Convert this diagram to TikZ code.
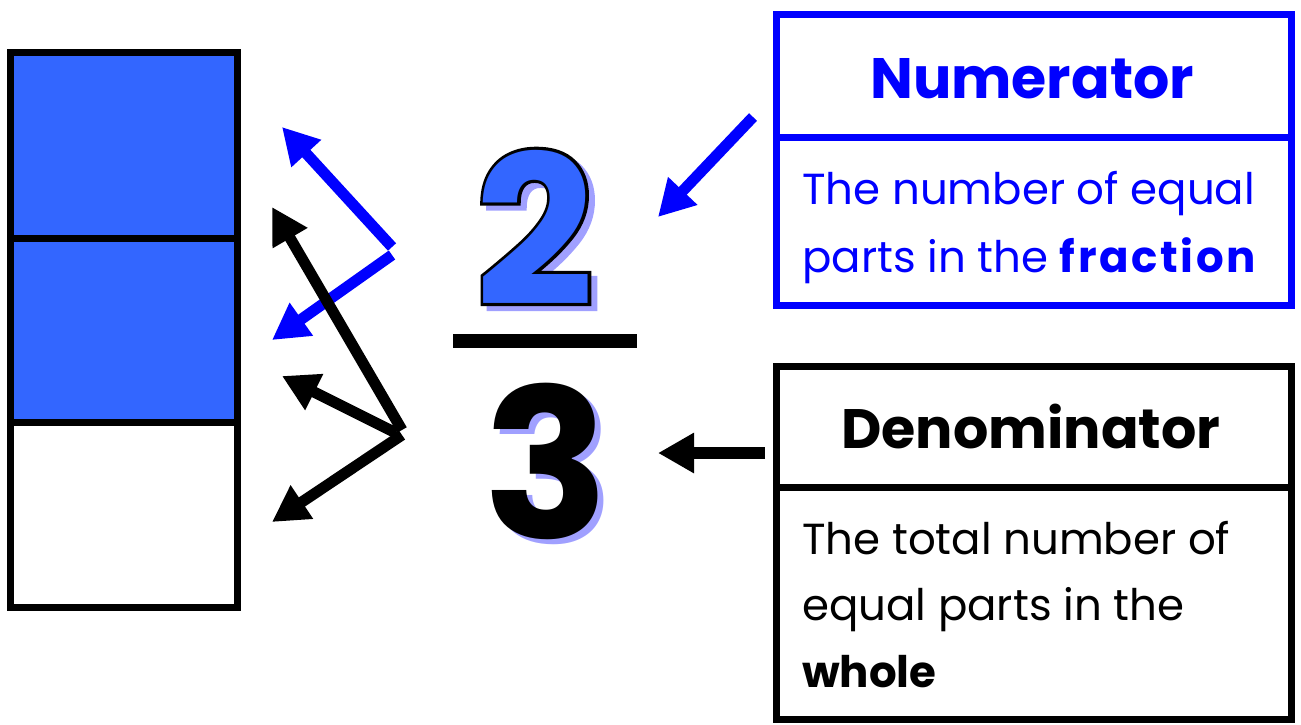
\documentclass[tikz,border=0pt]{standalone}
\usepackage{fontspec}
\setmainfont{Poppins}
\usetikzlibrary{arrows.meta,calc}
\definecolor{cellblue}{HTML}{3366FF}
\definecolor{pureblue}{HTML}{0000FF}
\definecolor{shadow}{HTML}{A0A0FF}
\tikzset{
  arr/.style={line width=11pt, -{Triangle[length=36pt,width=38pt]}},
  boxline/.style={line width=7pt},
  body/.style={anchor=base west, inner sep=0pt, font=\fontsize{43.5}{43.5}\selectfont},
  head/.style={anchor=base, inner sep=0pt, font=\fontsize{57}{57}\selectfont\bfseries},
  digit/.style={anchor=base, inner sep=0pt, font=\fontsize{208}{208}\selectfont\bfseries},
}
\begin{document}
\begin{tikzpicture}[x=1pt,y=-1pt]
\useasboundingbox (0,0) rectangle (1301,724);
% fraction bar model
\fill[cellblue] (10,52) rectangle (237,422);
\draw[boxline] (10,52) rectangle (237,607);
\draw[boxline] (10,238) -- (237,238);
\draw[boxline] (10,422) -- (237,422);
% coordinates for arrows
\coordinate (bv1) at (392,247);
\coordinate (bv2) at (392,255);
\coordinate (bt1) at (282,127);
\coordinate (bt2) at (272,340);
\coordinate (kv1) at (402,430);
\coordinate (kv2) at (396,433);
\coordinate (kv3) at (402,435);
\coordinate (kt1) at (272,207);
\coordinate (kt2) at (282,376);
\coordinate (kt3) at (272,522);
\draw[arr,pureblue] (bv1) -- (bt1);
\draw[arr,pureblue] (bv2) -- (bt2);
\draw[arr] (kv1) -- (kt1);
\draw[arr] (kv2) -- (kt2);
\draw[arr] (kv3) -- (kt3);
% fraction
\fill (453,334) rectangle (637,348);
\node[digit,text=shadow] (twoS) at (541,310) {\addfontfeature{FakeBold=3}2};
\node[digit,text=black] (twoO) at (535,305) {\addfontfeature{FakeBold=3}2};
\node[digit,text=cellblue] (two) at (535,305) {2};
\node[digit,text=shadow] (threeS) at (552,543) {3};
\node[digit,text=black] (three) at (546,538) {3};
% numerator box
\draw[boxline,pureblue] (776,14) rectangle (1291,305);
\draw[boxline,pureblue] (776,137) -- (1291,137);
\node[head,text=pureblue] (numh) at (1032,98) {Numerator};
\node[body,text=pureblue] (numa) at (802,204) {The number of equal};
\node[body,text=pureblue] (numb) at (802,272) {parts in the \textbf{\addfontfeature{LetterSpace=6}fraction}};
% denominator box
\draw[boxline] (776,366) rectangle (1291,719);
\draw[boxline] (776,487) -- (1291,487);
\node[head] (denh) at (1031,448) {\fontsize{55.5}{55.5}\selectfont Denominator};
\node[body] (dena) at (802,554) {The total number of};
\node[body] (denb) at (802,620) {equal parts in the};
\node[body] (denc) at (802,687) {\textbf{whole}};
% pointers
\coordinate (na) at (753,117);
\coordinate (nt) at (658,217);
\coordinate (da) at (765,453);
\coordinate (dt) at (658,453);
\draw[arr,pureblue] (na) -- (nt);
\draw[arr,line width=12pt] (da) -- (dt);
\end{tikzpicture}
\end{document}
